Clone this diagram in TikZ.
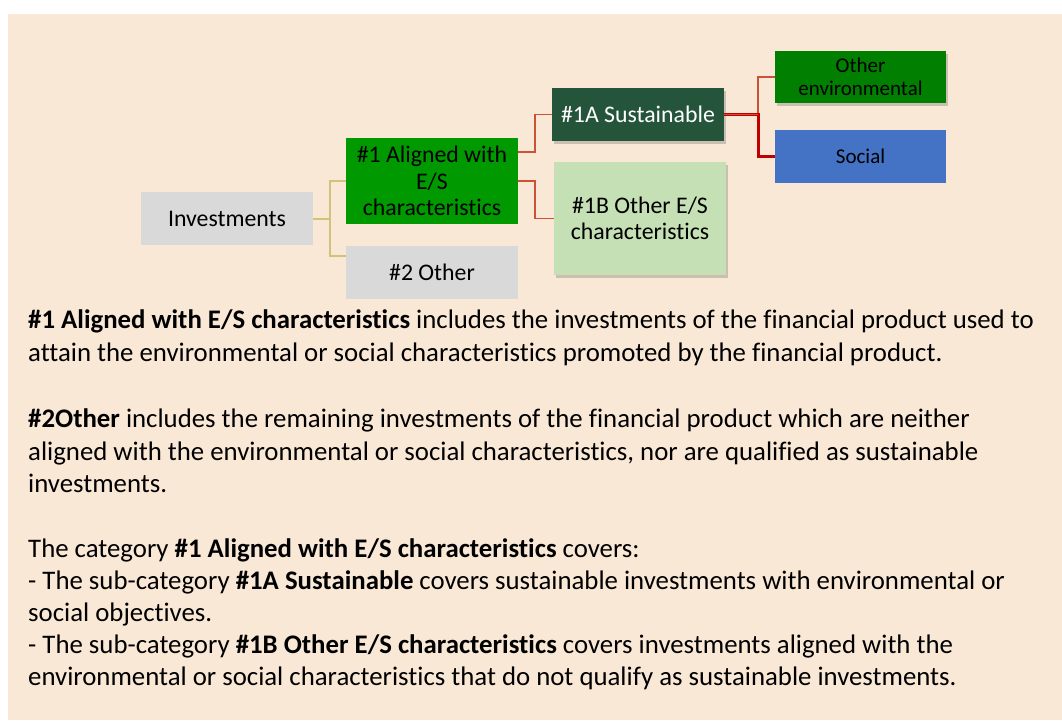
\documentclass[tikz,border=0pt]{standalone}
\usepackage{fontspec}
\setmainfont{Carlito}[Ligatures={TeX,NoCommon}]
\usetikzlibrary{shadows}
\definecolor{bgpeach}{HTML}{FAE8D7}
\definecolor{greybox}{HTML}{D9D9D9}
\definecolor{aligngreen}{HTML}{009A00}
\definecolor{sustgreen}{HTML}{24553A}
\definecolor{lightgreen}{HTML}{C5E0B4}
\definecolor{envgreen}{HTML}{007F00}
\definecolor{socblue}{HTML}{4472C4}
\definecolor{tanline}{HTML}{D2C27C}
\definecolor{orline}{HTML}{CC5236}
\definecolor{darkred}{HTML}{C00000}
\begin{document}
\begin{tikzpicture}[x=1pt,y=-1pt,
  box/.style={rectangle, draw=none, inner sep=2pt, align=center,
    font=\fontsize{23.8}{26.5}\selectfont},
  smallbox/.style={box, font=\fontsize{21}{22.5}\selectfont},
  shad/.style={drop shadow={shadow xshift=2pt, shadow yshift=-3pt, fill=black, opacity=0.18}},
  tanconn/.style={draw=tanline, line width=2pt},
  redconn/.style={draw=orline, line width=1.8pt},
  socconn/.style={draw=darkred, line width=2.8pt},
  body/.style={anchor=base west, inner sep=0pt, font=\fontsize{26.8}{32}\selectfont}]
\useasboundingbox (0,0) rectangle (1062,720);
\fill[white] (0,0) rectangle (1062,720);
\fill[bgpeach] (8,14) rectangle (1062,720);

% boxes
\node[box, fill=greybox, minimum width=172pt, minimum height=53pt] (inv) at (227,218.5) {Investments};
\node[box, fill=aligngreen, minimum width=172pt, minimum height=86pt] (al) at (432,181) {\#1 Aligned with\\E/S\\characteristics};
\node[box, fill=greybox, minimum width=172pt, minimum height=53pt] (oth) at (432,272.5) {\#2 Other};
\node[box, shad, fill=sustgreen, text=white, minimum width=172pt, minimum height=53pt] (s1a) at (638,114.5) {\#1A Sustainable};
\node[box, shad, fill=lightgreen, minimum width=172pt, minimum height=113pt] (s1b) at (640,218.5) {\#1B Other E/S\\characteristics};
\node[smallbox, shad, fill=envgreen, minimum width=171pt, minimum height=52pt] (oenv) at (860.5,77) {Other\\environmental};
\node[smallbox, fill=socblue, minimum width=171pt, minimum height=53pt] (soc) at (860.5,156.5) {Social};

% connectors
\draw[tanconn] (inv.east) -- ++(17,0) |- (al.west);
\draw[tanconn] (inv.east) -- ++(17,0) |- ([yshift=-10pt]oth.north west);
\draw[redconn] ([yshift=-14pt]al.north east) -- ++(17,0) |- (s1a.west);
\draw[redconn] (al.east) -- ++(17,0) |- (s1b.west);
\draw[redconn] (s1a.east) -- ++(34,0) |- (oenv.west);
\draw[socconn] (s1a.east) -- ++(34,0) |- (soc.west);
\draw[redconn] (s1a.east) -- ++(34,0);

% body text
\node[body] (t1) at (28,328) {\textbf{\#1 Aligned with E/S characteristics} includes the investments of the financial product used to};
\node[body] (t2) at (28,361) {attain the environmental or social characteristics promoted by the financial product.};
\node[body] (t3) at (28,427) {\textbf{\#2Other} includes the remaining investments of the financial product which are neither};
\node[body] (t4) at (28,460) {aligned with the environmental or social characteristics, nor are qualified as sustainable};
\node[body] (t5) at (28,492) {investments.};
\node[body] (t6) at (28,557) {The category \textbf{\#1 Aligned with E/S characteristics} covers:};
\node[body] (t7) at (28,589) {- The sub-category \textbf{\#1A Sustainable} covers sustainable investments with environmental or};
\node[body] (t8) at (28,621) {social objectives.};
\node[body] (t9) at (28,653) {- The sub-category \textbf{\#1B Other E/S characteristics} covers investments aligned with the};
\node[body] (t10) at (28,685) {environmental or social characteristics that do not qualify as sustainable investments.};
\end{tikzpicture}
\end{document}
